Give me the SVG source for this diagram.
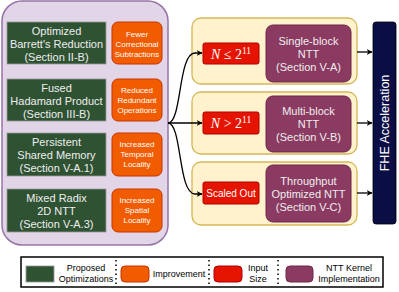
<svg xmlns="http://www.w3.org/2000/svg" width="399" height="292" viewBox="0 0 399 292">
<style>
text{font-family:"Liberation Sans",Arial,sans-serif;text-anchor:middle}
.panel{fill:#e1d5e7;stroke:#9673a6;stroke-width:1.5}
.opt{fill:#2f5233;stroke:#999;stroke-width:0.8}
.optt{fill:#eeeeee;font-size:11px}
.imp{fill:#f25c00;stroke:#c73500;stroke-width:1}
.impt{fill:#ffffff;font-size:8px}
.cont{fill:#fff2cc;stroke:#d6b656;stroke-width:1.3}
.inp{fill:#e51400;stroke:#b20000;stroke-width:1}
.ntt{fill:#8b3a62;stroke:#6d2a4a;stroke-width:1}
.nttt{fill:#eeeeee;font-size:11px}
.math{font-family:"Liberation Serif","Times New Roman",serif;fill:#fff;font-size:14px}
.conn{fill:none;stroke:#000;stroke-width:1.3}
.leg{fill:#000;font-size:9px}
.sep{stroke:#000;stroke-width:1.5;stroke-dasharray:1.5 3}
</style>
<defs>
<marker id="arr" viewBox="0 0 10 10" refX="9" refY="5" markerWidth="6" markerHeight="6" orient="auto" markerUnits="userSpaceOnUse">
<path d="M0,0 L10,5 L0,10 L3,5 z" fill="#000"/>
</marker>
</defs>

<g id="panel"><rect class="panel" x="2" y="1" width="166" height="244" rx="20"/></g>

<g id="opt1"><rect class="opt" x="7" y="22" width="99" height="42"/>
<text class="optt" x="56.5" y="35">Optimized</text><text class="optt" x="56.5" y="48">Barrett's Reduction</text><text class="optt" x="56.5" y="61">(Section II-B)</text></g>
<g id="opt2"><rect class="opt" x="7" y="79" width="99" height="42"/>
<text class="optt" x="56.5" y="92">Fused</text><text class="optt" x="56.5" y="105">Hadamard Product</text><text class="optt" x="56.5" y="118">(Section III-B)</text></g>
<g id="opt3"><rect class="opt" x="7" y="133" width="99" height="43"/>
<text class="optt" x="56.5" y="146">Persistent</text><text class="optt" x="56.5" y="159">Shared Memory</text><text class="optt" x="56.5" y="172">(Section V-A.1)</text></g>
<g id="opt4"><rect class="opt" x="7" y="189" width="99" height="43"/>
<text class="optt" x="56.5" y="202">Mixed Radix</text><text class="optt" x="56.5" y="215">2D NTT</text><text class="optt" x="56.5" y="228">(Section V-A.3)</text></g>

<g id="imp1"><rect class="imp" x="112" y="22" width="50" height="42" rx="6"/>
<text class="impt" x="137" y="37">Fewer</text><text class="impt" x="137" y="47">Correctional</text><text class="impt" x="137" y="57">Subtractions</text></g>
<g id="imp2"><rect class="imp" x="112" y="79" width="50" height="42" rx="6"/>
<text class="impt" x="137" y="93">Reduced</text><text class="impt" x="137" y="103">Redundant</text><text class="impt" x="137" y="113">Operations</text></g>
<g id="imp3"><rect class="imp" x="112" y="133" width="50" height="43" rx="6"/>
<text class="impt" x="137" y="147">Increased</text><text class="impt" x="137" y="157">Temporal</text><text class="impt" x="137" y="167">Locality</text></g>
<g id="imp4"><rect class="imp" x="112" y="189" width="50" height="43" rx="6"/>
<text class="impt" x="137" y="203">Increased</text><text class="impt" x="137" y="213">Spatial</text><text class="impt" x="137" y="223">Locality</text></g>

<g id="cont1"><rect class="cont" x="192" y="18" width="165" height="66" rx="9"/></g>
<g id="cont2"><rect class="cont" x="192" y="92" width="165" height="62" rx="9"/></g>
<g id="cont3"><rect class="cont" x="192" y="162" width="165" height="63" rx="9"/></g>

<g id="in1"><rect class="inp" x="203" y="43" width="56" height="21" rx="2"/>
<text class="math" x="231" y="59"><tspan font-style="italic">N</tspan> ≤ 2<tspan font-size="9.5" dy="-5">11</tspan></text></g>
<g id="in2"><rect class="inp" x="203" y="112" width="56" height="22" rx="2"/>
<text class="math" x="231" y="128"><tspan font-style="italic">N</tspan> &gt; 2<tspan font-size="9.5" dy="-5">11</tspan></text></g>
<g id="in3"><rect class="inp" x="203" y="182" width="56" height="22" rx="2"/>
<text x="231" y="197" fill="#fff" font-size="10">Scaled Out</text></g>

<g id="ntt1"><rect class="ntt" x="266" y="25" width="85" height="57" rx="7"/>
<text class="nttt" x="308.5" y="45">Single-block</text><text class="nttt" x="308.5" y="58">NTT</text><text class="nttt" x="308.5" y="71">(Section V-A)</text></g>
<g id="ntt2"><rect class="ntt" x="266" y="96" width="85" height="56" rx="7"/>
<text class="nttt" x="308.5" y="115">Multi-block</text><text class="nttt" x="308.5" y="128">NTT</text><text class="nttt" x="308.5" y="141">(Section V-B)</text></g>
<g id="ntt3"><rect class="ntt" x="266" y="165" width="85" height="57" rx="7"/>
<text class="nttt" x="308.5" y="185">Throughput</text><text class="nttt" x="308.5" y="198">Optimized NTT</text><text class="nttt" x="308.5" y="211">(Section V-C)</text></g>

<g id="fhe"><rect x="373" y="22" width="23" height="202" rx="3" fill="#0b0d45" stroke="#000" stroke-width="0.8"/>
<text x="0" y="0" fill="#fff" font-size="12.5" transform="translate(389,123) rotate(-90)">FHE Acceleration</text></g>

<g id="connectors">
<path class="conn" d="M168,123 C182,123 178,53 195,53 L202,53" marker-end="url(#arr)"/>
<path class="conn" d="M168,123 L202,123" marker-end="url(#arr)"/>
<path class="conn" d="M168,123 C182,123 178,194 195,194 L202,194" marker-end="url(#arr)"/>
<path class="conn" d="M357,52 L372,52" marker-end="url(#arr)"/>
<path class="conn" d="M357,123 L372,123" marker-end="url(#arr)"/>
<path class="conn" d="M357,193 L372,193" marker-end="url(#arr)"/>
</g>

<g id="legend">
<rect x="21" y="257" width="362" height="30" fill="#fff" stroke="#000" stroke-width="1.5"/>
<rect x="26" y="266" width="28" height="16" fill="#2f5233" stroke="#999" stroke-width="0.8"/>
<text class="leg" x="86" y="271">Proposed</text><text class="leg" x="86" y="282">Optimizations</text>
<line class="sep" x1="116" y1="260" x2="116" y2="285"/>
<rect x="121" y="266" width="28" height="16" rx="4" class="imp"/>
<text class="leg" x="179" y="277">Improvement</text>
<line class="sep" x1="209" y1="260" x2="209" y2="285"/>
<rect x="214" y="266" width="28" height="16" rx="4" class="inp"/>
<text class="leg" x="258" y="271">Input</text><text class="leg" x="258" y="282">Size</text>
<line class="sep" x1="278" y1="260" x2="278" y2="285"/>
<rect x="286" y="266" width="27" height="16" rx="4" class="ntt"/>
<text class="leg" x="349" y="271">NTT Kernel</text><text class="leg" x="349" y="282">Implementation</text>
</g>
</svg>
